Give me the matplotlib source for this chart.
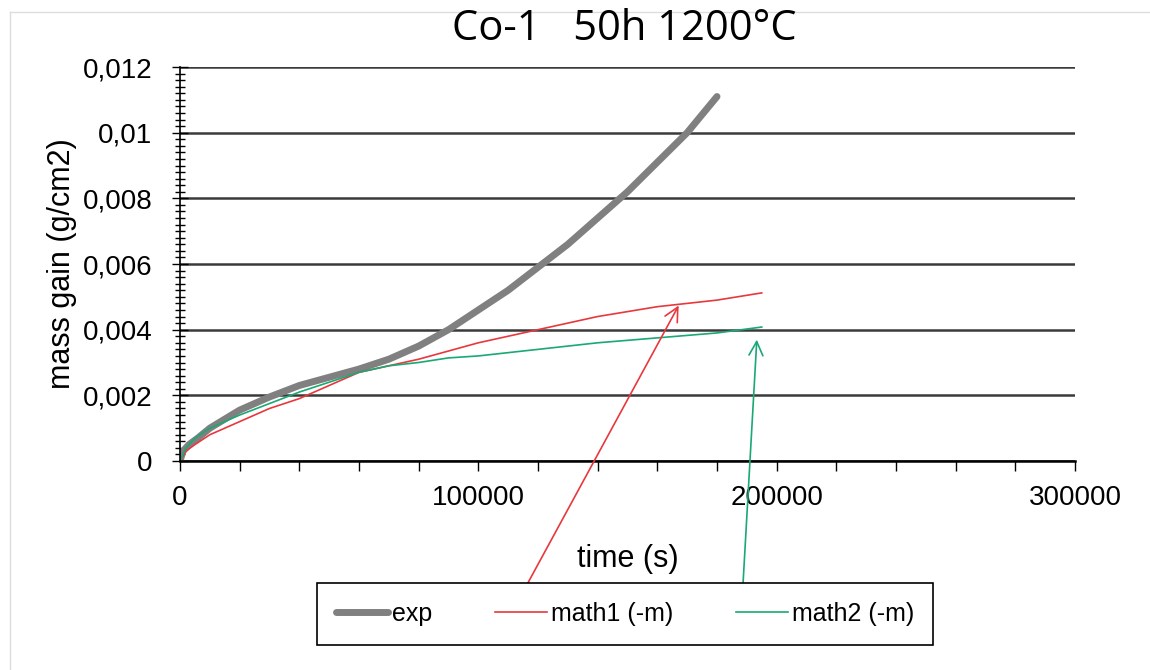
import matplotlib
matplotlib.use("Agg")
import matplotlib.pyplot as plt
from matplotlib.ticker import MultipleLocator, FuncFormatter
from matplotlib.lines import Line2D

plt.rcParams['font.family'] = ['Liberation Sans', 'DejaVu Sans']

# data
t_exp = [0, 1000, 3000, 6000, 10000, 20000, 30000, 40000, 50000, 60000, 70000,
         80000, 90000, 100000, 110000, 120000, 130000, 140000, 150000, 160000,
         170000, 180000]
m_exp = [0, 0.0003, 0.0005, 0.0007, 0.001, 0.00155, 0.00195, 0.0023, 0.00255,
         0.0028, 0.0031, 0.0035, 0.0040, 0.0046, 0.0052, 0.0059, 0.0066, 0.0074,
         0.0082, 0.0091, 0.0100, 0.0111]

t_math = [0, 2000, 5000, 10000, 20000, 30000, 40000, 50000, 60000, 70000, 80000,
          90000, 100000, 120000, 140000, 160000, 180000, 195000]
m_math1 = [0, 0.0003, 0.0005, 0.0008, 0.0012, 0.0016, 0.0019, 0.0023, 0.0027,
           0.0029, 0.0031, 0.00335, 0.0036, 0.0040, 0.0044, 0.0047, 0.0049, 0.00512]
m_math2 = [0, 0.0004, 0.0007, 0.0010, 0.0014, 0.00175, 0.0021, 0.0024, 0.0027,
           0.0029, 0.0030, 0.00314, 0.0032, 0.0034, 0.0036, 0.00375, 0.0039, 0.00408]

y_labels = ['0', '0,002', '0,004', '0,006', '0,008', '0,01', '0,012']

RED = '#e8383d'
GREEN = '#1aa874'

fig = plt.figure(figsize=(11.5, 6.7), dpi=100)
ax = fig.add_axes([180/1150, 1-461/670, 895/1150, 394/670])

ax.plot(t_exp, m_exp, color='#808080', lw=5, label='exp', solid_capstyle='round')
ax.plot(t_math, m_math1, color=RED, lw=1.2, label='math1 (-m)')
ax.plot(t_math, m_math2, color=GREEN, lw=1.2, label='math2 (-m)')

ax.set_xlim(0, 300000)
ax.set_ylim(0, 0.012)
ax.xaxis.set_major_locator(MultipleLocator(100000))
ax.xaxis.set_minor_locator(MultipleLocator(20000))
ax.yaxis.set_major_locator(MultipleLocator(0.002))
ax.yaxis.set_minor_locator(MultipleLocator(0.0002))
ax.yaxis.set_major_formatter(FuncFormatter(lambda v, p: y_labels[int(round(v/0.002))] if 0 <= round(v/0.002) < len(y_labels) else ''))
ax.xaxis.set_major_formatter(FuncFormatter(lambda v, p: '%d' % v))

ax.grid(axis='y', color='#3a3a3a', lw=1.8)
ax.set_axisbelow(True)
for s in ['top', 'right']:
    ax.spines[s].set_visible(False)
ax.spines['left'].set_linewidth(1.2)
ax.spines['bottom'].set_linewidth(1.8)
ax.tick_params(axis='x', which='both', direction='out', length=7, width=1, labelsize=20, pad=10)
ax.tick_params(axis='y', which='major', direction='inout', length=12, width=1, labelsize=20, pad=14)
ax.tick_params(axis='y', which='minor', direction='inout', length=7, width=1)

ax.set_xlabel('time (s)', fontsize=22, labelpad=24)
ax.set_ylabel('mass gain (g/cm2)', fontsize=22, labelpad=4)
fig.text(624/1150, 1-40/670, 'Co-1   50h 1200°C', fontsize=30, ha='center', va='baseline',
         family=['Open Sans', 'DejaVu Sans'])

leg = fig.legend(loc='center', bbox_to_anchor=(625/1150, 1-614/670), ncol=3,
                 fancybox=False, edgecolor='black', fontsize=18, handlelength=2.1,
                 columnspacing=2.5, handletextpad=0.15, borderpad=0.75, borderaxespad=0,
                 framealpha=1)
leg.get_frame().set_linewidth(1.2)

# arrows from legend entries to curves
ax.annotate('', xy=(167600, 0.00481), xycoords='data', xytext=(517, 670-603),
            textcoords='figure pixels',
            arrowprops=dict(arrowstyle='->', color=RED, lw=1.2, mutation_scale=25))
ax.annotate('', xy=(193400, 0.00378), xycoords='data', xytext=(742, 670-602),
            textcoords='figure pixels',
            arrowprops=dict(arrowstyle='->', color=GREEN, lw=1.2, mutation_scale=25))

# faint frame of the original screenshot
fig.add_artist(Line2D([10/1150, 1], [1-12/670, 1-12/670], color='#dddddd', lw=1))
fig.add_artist(Line2D([10/1150, 10/1150], [0, 1-12/670], color='#dddddd', lw=1))

fig.savefig('out.png', dpi=100)
